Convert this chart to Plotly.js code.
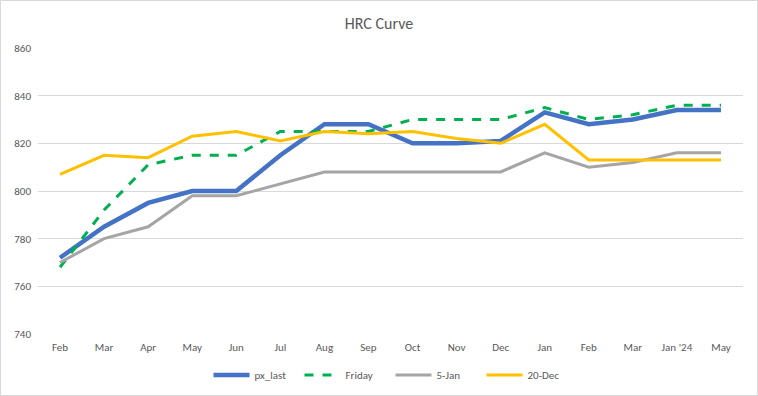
<!DOCTYPE html>
<html>
<head>
<meta charset="utf-8">
<script src="https://cdn.plot.ly/plotly-3.0.1.min.js"></script>
<style>
html,body{margin:0;padding:0;background:#fff;}
#chart{width:758px;height:396px;box-sizing:border-box;border:1px solid #d9d9d9;}
</style>
</head>
<body>
<div id="chart"></div>
<script>
const months = ["Feb","Mar","Apr","May","Jun","Jul","Aug","Sep","Oct","Nov","Dec","Jan","Feb","Mar","Jan '24","May"];
const pxLast = [772,785,795,800,800,815,828,828,820,820,821,833,828,830,834,834];
const friday = [768,792,811,815,815,825,825,825,830,830,830,835,830,832,836,836];
const jan5   = [770,780,785,798,798,803,808,808,808,808,808,816,810,812,816,816];
const dec20  = [807,815,814,823,825,821,825,824,825,822,820,828,813,813,813,813];

const idx = months.map((m,i)=>i);
const font = "Calibri, Carlito, 'Liberation Sans', Arial, sans-serif";

const traces = [
  {name:"px_last", x:idx, y:pxLast, mode:"lines", line:{color:"#4472C4", width:4.5}},
  {name:"Friday", x:idx, y:friday, mode:"lines", line:{color:"#00B050", width:3, dash:"dash"}},
  {name:"5-Jan", x:idx, y:jan5, mode:"lines", line:{color:"#A5A5A5", width:3}},
  {name:"20-Dec", x:idx, y:dec20, mode:"lines", line:{color:"#FFC000", width:3}}
];

const layout = {
  width:756, height:394,
  margin:{l:37, r:14, t:47, b:61, autoexpand:false},
  paper_bgcolor:"#fff", plot_bgcolor:"#fff",
  font:{family:font, size:11, color:"#595959"},
  title:{text:"HRC Curve", x:0.5, xanchor:"center", y:0.943, yanchor:"middle",
         font:{family:font, size:16, color:"#595959"}},
  xaxis:{range:[-0.5,15.5], tickmode:"array", tickvals:idx, ticktext:months,
         showgrid:false, zeroline:false, showline:false, ticks:"", fixedrange:true,
         ticklabelstandoff:5, tickfont:{size:11, color:"#595959"}},
  yaxis:{range:[740,860], dtick:20, tick0:740, showgrid:true, gridcolor:"#d9d9d9", gridwidth:1,
         zeroline:false, showline:false, ticks:"", ticklabelstandoff:6,
         tickfont:{size:11, color:"#595959"}},
  showlegend:true,
  legend:{orientation:"h", x:0.5, xanchor:"center", y:-0.143, yanchor:"middle",
          font:{size:11, color:"#595959"}, itemwidth:36, entrywidth:40, entrywidthmode:"pixels", tracegroupgap:0}
};

Plotly.newPlot("chart", traces, layout, {displayModeBar:false, staticPlot:true});
</script>
</body>
</html>
